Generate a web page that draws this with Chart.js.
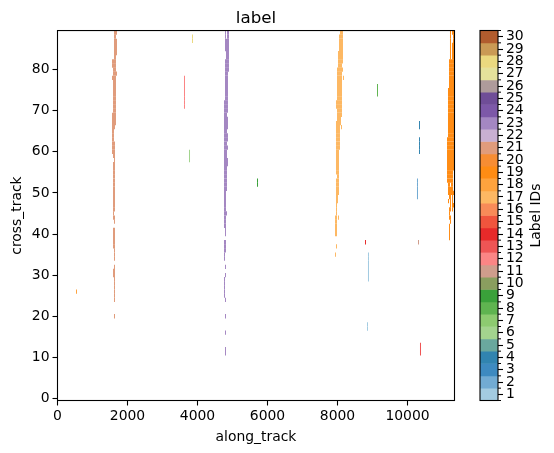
<!DOCTYPE html>
<html>
<head>
<meta charset="utf-8">
<title>label</title>
<script src="https://cdn.jsdelivr.net/npm/chart.js@4"></script>
<style>
    html, body { margin: 0; padding: 0; background: #fff; }
    canvas { position: absolute; top: 0; }
    #mainChart { left: 0; }
    #barChart { left: 470px; }
</style>
</head>
<body>
<canvas id="mainChart" width="554" height="453"></canvas>
<canvas id="barChart" width="84" height="453"></canvas>
<script>
// ===== DATA =====
const labelIds = [1, 2, 3, 4, 5, 6, 7, 8, 9, 10, 11, 12, 13, 14, 15, 16, 17, 18, 19, 20, 21, 22, 23, 24, 25, 26, 27, 28, 29, 30];
const labelColors = [
    '#a3cbe1', '#72abd3', '#3e8ac0', '#3184b0', '#6aa89e', '#a3d48e', '#8dcb70', '#5fb450', '#3aa13a', '#8a9e5f',
    '#cf9d8c', '#fb8585', '#ef5555', '#e72a2a', '#f0553d', '#f88b58', '#fdb863', '#fea33e', '#ff8c14', '#f78d33',
    '#e09c7c', '#c9b0d2', '#a487c2', '#7d58a8', '#6f4d97', '#ae9b9b', '#e5e29b', '#ebd97f', '#ca9a55', '#b15c2e'
];
const xTicks = [0, 2000, 4000, 6000, 8000, 10000];
const yTicks = [0, 10, 20, 30, 40, 50, 60, 70, 80];

// each run: [top row, bottom row, along_track start, along_track end]
const label21 = [
    [89, 89, 1614, 1700], [88, 88, 1614, 1671], [87, 84, 1614, 1700], [83, 83, 1614, 1671],
    [82, 81, 1557, 1671], [80, 80, 1586, 1671], [79, 79, 1586, 1700], [78, 78, 1557, 1671],
    [77, 70, 1586, 1671], [69, 67, 1557, 1671], [66, 66, 1557, 1643], [65, 63, 1557, 1614],
    [62, 60, 1557, 1643], [59, 59, 1586, 1643], [58, 58, 1614, 1643], [57, 46, 1586, 1643],
    [45, 45, 1586, 1614], [44, 44, 1586, 1643], [43, 43, 1614, 1643], [41, 37, 1586, 1643],
    [36, 34, 1614, 1643], [32, 32, 1614, 1643], [31, 30, 1586, 1643], [29, 24, 1614, 1643],
    [20, 20, 1614, 1643]
];
const label23 = [
    [89, 88, 4786, 4814], [89, 88, 4843, 4900], [87, 85, 4786, 4900], [84, 83, 4814, 4900],
    [82, 80, 4786, 4900], [79, 73, 4786, 4871], [72, 70, 4757, 4871], [69, 69, 4757, 4843],
    [68, 66, 4757, 4871], [65, 65, 4757, 4843], [64, 63, 4757, 4871], [62, 62, 4757, 4843],
    [61, 61, 4757, 4871], [60, 59, 4757, 4843], [58, 57, 4757, 4871], [56, 51, 4757, 4843],
    [50, 46, 4757, 4814], [45, 45, 4757, 4843], [44, 42, 4757, 4814], [41, 40, 4786, 4814],
    [38, 36, 4757, 4814], [35, 34, 4757, 4786], [32, 32, 4786, 4814], [30, 30, 4786, 4814],
    [29, 25, 4757, 4786], [24, 24, 4786, 4814], [20, 20, 4786, 4814], [16, 16, 4786, 4814],
    [12, 11, 4786, 4814]
];
const label17 = [
    [89, 89, 8071, 8157], [88, 85, 8043, 8157], [84, 82, 8014, 8157], [81, 81, 8014, 8129],
    [80, 80, 7986, 8157], [79, 73, 7986, 8129], [78, 78, 8157, 8186], [72, 71, 7957, 8129],
    [70, 69, 7986, 8129], [68, 68, 7986, 8100], [67, 67, 7957, 8100], [66, 66, 7957, 8071],
    [66, 66, 8100, 8129], [65, 61, 7957, 8071], [60, 55, 7957, 8043], [54, 54, 7986, 8043],
    [53, 50, 7957, 8043], [49, 48, 7957, 8014], [47, 45, 7957, 7986], [44, 40, 7929, 7986],
    [44, 44, 8014, 8043], [37, 37, 7957, 7986], [35, 35, 7929, 7957]
];
const label19 = [
    [89, 89, 11214, 11243], [89, 89, 11271, 11343], [88, 87, 11214, 11243], [88, 87, 11300, 11343],
    [86, 83, 11214, 11243], [86, 83, 11271, 11343], [82, 76, 11186, 11343], [75, 64, 11157, 11343],
    [63, 56, 11129, 11343], [55, 53, 11129, 11300], [52, 52, 11157, 11214], [52, 52, 11243, 11300],
    [51, 51, 11157, 11300], [50, 50, 11157, 11343], [49, 49, 11186, 11243], [49, 49, 11271, 11300],
    [48, 48, 11157, 11186], [48, 48, 11214, 11243], [48, 48, 11271, 11300], [47, 47, 11214, 11243],
    [47, 47, 11271, 11343], [46, 46, 11186, 11243], [46, 46, 11271, 11300], [45, 45, 11186, 11214],
    [44, 44, 11186, 11243], [43, 43, 11214, 11243], [42, 39, 11186, 11214]
];
const label1 = [[35, 29, 8871, 8900], [18, 17, 8843, 8871]];
const label2 = [[53, 49, 10271, 10300]];
const label4 = [[67, 66, 10329, 10357], [63, 60, 10329, 10357]];
const label6 = [[60, 58, 3757, 3786]];
const label8 = [[76, 74, 9129, 9157]];
const label9 = [[53, 52, 5700, 5729]];
const label11 = [[38, 38, 10300, 10329]];
const label12 = [[78, 71, 3614, 3643]];
const label13 = [[13, 11, 10357, 10386]];
const label14 = [[38, 38, 8786, 8814]];
const label18 = [[26, 26, 529, 557]];
const label28 = [[88, 87, 3843, 3871]];

const labelRuns = {
    1: label1, 2: label2, 4: label4, 6: label6, 8: label8, 9: label9, 11: label11, 12: label12, 13: label13,
    14: label14, 17: label17, 18: label18, 19: label19, 21: label21, 23: label23, 28: label28
};

// ===== HELPERS =====
const FONT = 'DejaVu Sans';
const tickFont = { family: FONT, size: 13.9 };

function runsToBars(runs) {
    const bars = [];
    runs.forEach(r => {
        for (let row = r[0]; row >= r[1]; row--) {
            bars.push({ x: [r[2], r[3]], y: row });
        }
    });
    return bars;
}

// top and right spines are missing in Chart.js, so box the plot area
const spines = {
    id: 'spines',
    afterDraw(chart) {
        const a = chart.chartArea;
        const c = chart.ctx;
        c.save();
        c.strokeStyle = '#000';
        c.lineWidth = 1.1;
        c.strokeRect(a.left, a.top, a.right - a.left, a.bottom - a.top);
        c.restore();
    }
};

// minor ticks at the colour boundaries + axis label that reads upward
const barExtras = {
    id: 'barExtras',
    afterDraw(chart) {
        const a = chart.chartArea;
        const c = chart.ctx;
        const step = (a.bottom - a.top) / labelIds.length;
        c.save();
        c.strokeStyle = '#000';
        c.lineWidth = 1;
        for (let i = 0; i <= labelIds.length; i++) {
            const y = a.top + i * step;
            c.beginPath();
            c.moveTo(a.right, y);
            c.lineTo(a.right + 3, y);
            c.stroke();
        }
        c.translate(66, 215.5);
        c.rotate(-Math.PI / 2);
        c.font = '13.9px "' + FONT + '"';
        c.fillStyle = '#000';
        c.textAlign = 'center';
        c.textBaseline = 'middle';
        c.fillText('Label IDs', 0, 0);
        c.restore();
    }
};

// ===== MAIN CHART =====
new Chart(document.getElementById('mainChart'), {
    type: 'bar',
    data: {
        datasets: Object.keys(labelRuns).map(id => ({
            label: 'Label ' + id,
            data: runsToBars(labelRuns[id]),
            backgroundColor: labelColors[id - 1],
            borderWidth: 0,
            inflateAmount: 0,
            barThickness: 4.3,
            grouped: false,
        }))
    },
    options: {
        indexAxis: 'y',
        responsive: false,
        animation: false,
        layout: { padding: { left: 0, right: 99.5, top: 0, bottom: 0 } },
        plugins: {
            legend: { display: false },
            tooltip: { enabled: false },
            title: {
                display: true,
                text: 'label',
                fullSize: false,
                color: '#000',
                font: { family: FONT, size: 16.7, weight: 'normal' },
                padding: { top: 8.5, bottom: 2 },
            }
        },
        scales: {
            x: {
                type: 'linear',
                min: 0,
                max: 11343,
                afterBuildTicks: s => { s.ticks = xTicks.map(v => ({ value: v })); },
                afterFit: s => { s.height = 52.5; },
                grid: { drawOnChartArea: false, tickLength: 5, tickColor: '#000', tickWidth: 1.1 },
                border: { display: false },
                ticks: { color: '#000', font: tickFont, padding: 3, maxRotation: 0, autoSkip: false, callback: v => String(v) },
                title: { display: true, text: 'along_track', color: '#000', font: tickFont, padding: { top: 3, bottom: 7 } },
            },
            y: {
                type: 'linear',
                min: -0.5,
                max: 89.5,
                offset: false,
                afterBuildTicks: s => { s.ticks = yTicks.map(v => ({ value: v })); },
                afterFit: s => { s.width = 57.5; },
                grid: { offset: false, drawOnChartArea: false, tickLength: 5, tickColor: '#000', tickWidth: 1.1 },
                border: { display: false },
                ticks: { color: '#000', font: tickFont, padding: 3, autoSkip: false, callback: v => String(v) },
                title: { display: true, text: 'cross_track', color: '#000', font: tickFont, padding: { top: 9, bottom: 3 } },
            }
        }
    },
    plugins: [spines]
});

// ===== COLOUR BAR =====
new Chart(document.getElementById('barChart'), {
    type: 'bar',
    data: {
        labels: labelIds,
        datasets: [{
            data: labelIds.map(() => [0, 1]),
            backgroundColor: labelColors,
            borderWidth: 0,
            barPercentage: 1,
            categoryPercentage: 1,
        }]
    },
    options: {
        indexAxis: 'y',
        responsive: false,
        animation: false,
        layout: { padding: { left: 10, right: 0, top: 30.5, bottom: 52.5 } },
        plugins: { legend: { display: false }, tooltip: { enabled: false } },
        scales: {
            x: { type: 'linear', min: 0, max: 1, display: false },
            y: {
                type: 'category',
                position: 'right',
                reverse: true,
                afterFit: s => { s.width = 56; },
                grid: { offset: false, drawOnChartArea: false, tickLength: 5, tickColor: '#000', tickWidth: 1.1 },
                border: { display: false },
                ticks: { color: '#000', font: tickFont, padding: 3, autoSkip: false },
            }
        }
    },
    plugins: [spines, barExtras]
});
</script>
</body>
</html>
